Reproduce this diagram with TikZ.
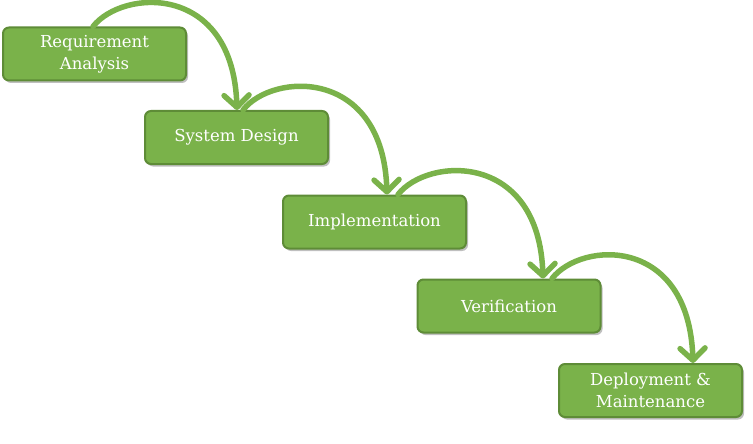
\documentclass[tikz,border=0pt]{standalone}
\usepackage{fontspec}
\setmainfont{DejaVu Serif}
\usetikzlibrary{arrows.meta, shadows}

\definecolor{leaf}{HTML}{7AB24A}
\definecolor{leafdark}{HTML}{5E8C37}

\tikzset{
    phase/.style={draw=leafdark, line width=2pt, fill=leaf, rounded corners=6pt,
        minimum width=183pt, minimum height=53pt, align=center, text=white,
        font=\fontsize{16.5}{22}\selectfont,
        drop shadow={shadow xshift=2pt, shadow yshift=-2.5pt, fill=black, opacity=0.25}},
    flow/.style={leaf, line width=5.5pt, line cap=round,
        -{Straight Barb[round, length=12pt, width=25pt]}}
}

\begin{document}
\begin{tikzpicture}[x=1pt, y=-1pt]
    \useasboundingbox (0,0) rectangle (753,444);
    % the five phases
    \node[phase] (req)  at (94.5,54)   {Requirement\\Analysis};
    \node[phase] (sys)  at (236.5,137.5) {System Design};
    \node[phase] (impl) at (374.5,222) {Implementation};
    \node[phase] (ver)  at (509,306)   {Verification};
    \node[phase] (dep)  at (650.5,390.5) {Deployment \&\\Maintenance};
    % flow arrows
    \draw[flow] ([xshift=-1.5pt]req.north) .. controls +(30,-38) and +(-4,-127) .. ([xshift=0.5pt]sys.north);
    \draw[flow] ([xshift=6.5pt]sys.north) .. controls +(30,-38) and +(-4,-127) .. ([xshift=12.5pt]impl.north);
    \draw[flow] ([xshift=23.5pt]impl.north) .. controls +(30,-38) and +(-4,-127) .. ([xshift=34pt]ver.north);
    \draw[flow] ([xshift=43pt]ver.north) .. controls +(30,-38) and +(-4,-127) .. ([xshift=42.5pt]dep.north);
\end{tikzpicture}
\end{document}
